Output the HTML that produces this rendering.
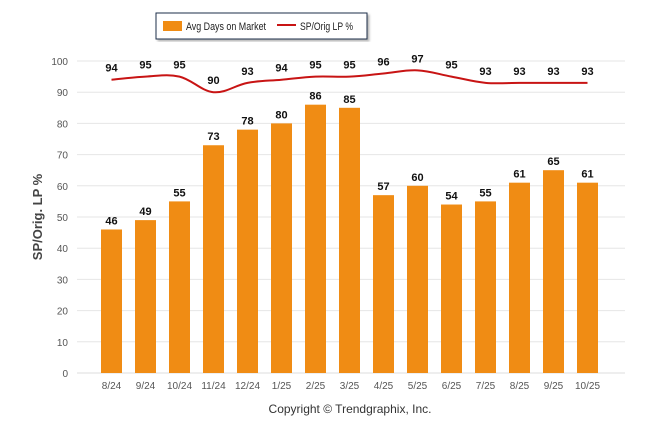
<!DOCTYPE html>
<html><head><meta charset="utf-8"><style>
body{margin:0;background:#fff;}
svg{display:block;font-family:"Liberation Sans",sans-serif;}
</style></head><body>
<svg id="c" width="646" height="434">
<defs><filter id="sh"><feDropShadow dx="2" dy="2" stdDeviation="1" flood-color="#888" flood-opacity="0.6"/></filter></defs>
<g>
<rect x="156" y="13" width="211" height="26" fill="#fff" stroke="#1f2d4a" stroke-width="1" filter="url(#sh)"/>
<rect x="163" y="21" width="19" height="10" fill="#f08c14"/>
<text x="186" y="30" font-size="11" textLength="80" lengthAdjust="spacingAndGlyphs" fill="#222">Avg Days on Market</text>
<line x1="277" y1="25" x2="296" y2="25" stroke="#c81414" stroke-width="2"/>
<text x="300" y="30" font-size="11" textLength="53" lengthAdjust="spacingAndGlyphs" fill="#222">SP/Orig LP %</text>
</g>
<g id="grid"></g><g id="bars"></g><g id="line"></g><g id="labels"></g>
<text transform="translate(42,217) rotate(-90)" text-anchor="middle" font-size="13" font-weight="bold" fill="#444">SP/Orig. LP %</text>
<text x="350" y="413" text-anchor="middle" font-size="12" fill="#333">Copyright © Trendgraphix, Inc.</text>
</svg>
<script>
const categories=["8/24","9/24","10/24","11/24","12/24","1/25","2/25","3/25","4/25","5/25","6/25","7/25","8/25","9/25","10/25"];
const daysOnMarket=[46,49,55,73,78,80,86,85,57,60,54,55,61,65,61];
const spOrigLp=[94,95,95,90,93,94,95,95,96,97,95,93,93,93,93];
const yTicks=[0,10,20,30,40,50,60,70,80,90,100];
const NS="http://www.w3.org/2000/svg";
const y=v=>373-v*3.12;
const x=i=>111.5+i*34;
function mk(p,t,a){const e=document.createElementNS(NS,t);for(const k in a)e.setAttribute(k,a[k]);document.getElementById(p).appendChild(e);return e;}
yTicks.forEach(t=>{
 const l=mk('grid','line',{x1:77,x2:625,y1:y(t),y2:y(t),stroke:'#e6e6e6','stroke-width':1});
 
 
 const tx=mk('grid','text',{x:68,y:y(t)+4,'text-anchor':'end','font-size':10,fill:'#555'});tx.textContent=t;
 
 
});
categories.forEach((c,i)=>{
 const r=mk('bars','rect',{x:x(i)-10.5,y:y(daysOnMarket[i]),width:21,height:373-y(daysOnMarket[i]),fill:'#f08c14'});
 
 
 const t=mk('labels','text',{x:x(i),y:y(daysOnMarket[i])-5,'text-anchor':'middle','font-size':11,'font-weight':'bold',fill:'#111'});t.textContent=daysOnMarket[i];
 
 
 const lt=mk('labels','text',{x:x(i),y:y(spOrigLp[i])-8,'text-anchor':'middle','font-size':11,'font-weight':'bold',fill:'#111'});lt.textContent=spOrigLp[i];
 
 
 const xl=mk('labels','text',{x:x(i),y:389,'text-anchor':'middle','font-size':10,fill:'#555'});xl.textContent=c;
 
 
});
const pts=spOrigLp.map((v,i)=>[x(i),y(v)]);
let d='M'+pts[0][0]+','+pts[0][1];
for(let i=0;i<pts.length-1;i++){
 const p0=pts[Math.max(0,i-1)],p1=pts[i],p2=pts[i+1],p3=pts[Math.min(pts.length-1,i+2)];
 const s=0.18;
 d+=' C'+(p1[0]+(p2[0]-p0[0])*s)+','+(p1[1]+(p2[1]-p0[1])*s)+' '+(p2[0]-(p3[0]-p1[0])*s)+','+(p2[1]-(p3[1]-p1[1])*s)+' '+p2[0]+','+p2[1];
}
const pl=mk('line','path',{d:d,fill:'none',stroke:'#c81414','stroke-width':2});


const ax=mk('grid','line',{x1:77,x2:625,y1:373,y2:373,stroke:'#ddd'});


</script>
</body></html>
